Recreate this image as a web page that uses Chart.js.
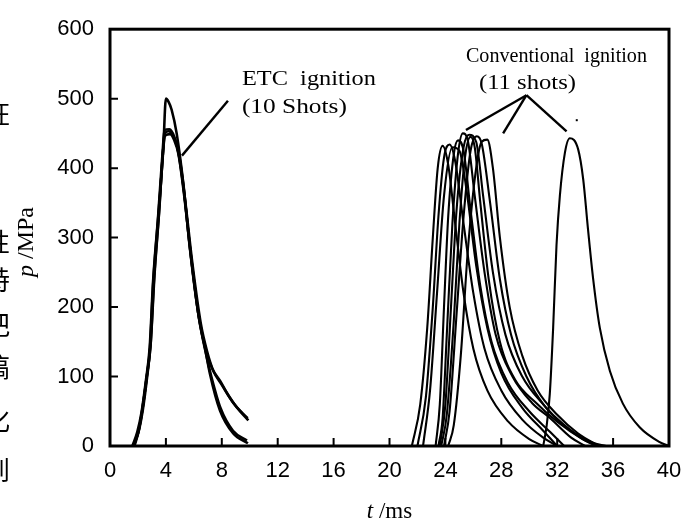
<!DOCTYPE html>
<html>
<head>
<meta charset="utf-8">
<script src="https://cdn.jsdelivr.net/npm/chart.js@4/dist/chart.umd.min.js"></script>
<style>
  html, body { margin: 0; padding: 0; background: #fff; }
  #wrap { width: 696px; height: 525px; }
</style>
</head>
<body>
<div id="wrap"><canvas id="pChart" width="696" height="525"></canvas></div>
<script>
// tick labels
const xTicks = [0, 4, 8, 12, 16, 20, 24, 28, 32, 36, 40];
const yTicks = [0, 100, 200, 300, 400, 500, 600];

// ETC ignition shots, [t ms, p MPa]
const etc1 = [[1.65,0],[2.0,18],[2.27,47],[2.6,95],[2.86,141],[3.1,237],[3.46,332],[3.81,427],[4.0,500],[4.2,495],[4.41,484],[4.77,450],[5.24,379],[5.72,284],[6.32,190],[6.8,141],[7.15,104],[7.87,51],[8.82,18],[9.87,4]];
const etc2 = [[1.7,0],[2.05,22],[2.3,50],[2.62,98],[2.9,145],[3.15,240],[3.5,335],[3.78,420],[3.92,450],[4.2,453],[4.5,447],[4.8,432],[5.26,372],[5.74,282],[6.34,188],[6.85,138],[7.3,112],[7.87,94],[8.5,72],[9.06,56],[9.9,37]];
const etc3 = [[1.75,0],[2.1,25],[2.35,52],[2.66,100],[2.92,150],[3.18,245],[3.52,338],[3.8,425],[3.95,447],[4.3,449],[4.6,440],[4.9,420],[5.3,362],[5.78,276],[6.36,185],[6.9,130],[7.25,100],[7.9,55],[8.8,22],[9.8,8]];
const etc4 = [[1.6,0],[1.95,20],[2.25,48],[2.58,96],[2.84,142],[3.08,236],[3.44,330],[3.76,422],[3.9,455],[4.25,456],[4.6,445],[5.0,412],[5.4,350],[5.9,262],[6.5,176],[6.95,136],[7.4,108],[8.0,88],[8.9,60],[9.85,40]];

// conventional ignition shots
const conv1 = [[21.6,0],[22.2,60],[22.7,170],[23.1,300],[23.45,400],[23.8,432],[24.2,405],[24.7,320],[25.3,220],[26.0,140],[27.0,80],[28.5,35],[30.0,10],[31.0,0]];
const conv2 = [[22.0,0],[22.6,70],[23.1,200],[23.5,330],[23.9,415],[24.3,434],[24.7,410],[25.3,320],[26.0,220],[26.8,140],[28.0,80],[29.5,38],[31.0,12],[32.0,0]];
const conv3 = [[22.4,0],[22.9,80],[23.4,220],[23.9,360],[24.5,430],[25.0,425],[25.5,370],[26.2,260],[27.0,170],[28.0,105],[29.5,55],[31.0,22],[32.0,0]];
const conv4 = [[23.3,0],[23.6,60],[23.9,200],[24.2,330],[24.6,420],[24.9,440],[25.3,425],[25.8,340],[26.5,230],[27.3,150],[28.5,90],[30.0,50],[31.5,20],[32.5,0]];
const conv5 = [[23.5,0],[23.8,40],[24.1,160],[24.5,320],[24.9,420],[25.25,450],[25.6,440],[26.1,360],[26.8,250],[27.6,160],[28.8,100],[30.2,62],[31.5,40],[33.0,12],[34.0,0]];
const conv6 = [[23.6,0],[24.0,60],[24.4,200],[24.8,340],[25.3,430],[25.7,448],[26.2,438],[26.7,360],[27.4,250],[28.3,160],[29.5,100],[31.0,60],[32.5,30],[34.0,8],[35.0,0]];
const conv7 = [[23.9,0],[24.3,50],[24.8,190],[25.3,330],[25.8,425],[26.25,446],[26.6,435],[27.2,350],[27.9,240],[28.7,160],[29.8,100],[31.2,55],[32.8,25],[34.5,5],[35.5,0]];
const conv8 = [[24.2,0],[24.6,30],[25.1,130],[25.6,280],[26.2,400],[26.6,438],[27.0,441],[27.4,400],[27.9,300],[28.6,200],[29.5,130],[30.6,80],[32.0,45],[33.5,18],[35.0,0]];
const conv9 = [[23.7,0],[24.1,45],[24.6,180],[25.0,320],[25.4,415],[25.8,445],[26.1,430],[26.5,350],[27.1,240],[27.9,150],[29.0,95],[30.5,62],[32.0,35],[33.8,10],[34.8,0]];
const conv10 = [[31.0,0],[31.25,30],[31.47,75],[31.71,170],[31.95,289],[32.19,360],[32.55,422],[32.9,443],[33.5,427],[33.86,384],[34.2,313],[34.57,241],[35.05,170],[35.77,108],[36.7,61],[37.9,27],[39.3,6],[40.0,0]];

// annotation texts
const etcLabel = ['ETC  ignition', '(10 Shots)'];
const convLabel = ['Conventional  ignition', '(11 shots)'];

const etcShots = [etc1, etc2, etc3, etc4];
const convShots = [conv1, conv2, conv3, conv4, conv5, conv6, conv7, conv8, conv9, conv10];

function toPts(arr) {
    return arr.map(function (d) { return { x: d[0], y: d[1] }; });
}

const datasets = [];
etcShots.forEach(function (s) {
    datasets.push({ data: toPts(s), borderColor: '#000', borderWidth: 2.6, pointRadius: 0, fill: false, cubicInterpolationMode: 'monotone' });
});
convShots.forEach(function (s) {
    datasets.push({ data: toPts(s), borderColor: '#000', borderWidth: 2.1, pointRadius: 0, fill: false, cubicInterpolationMode: 'monotone' });
});

// frame, inner ticks, titles and labels
const decor = {
    id: 'decor',
    afterDraw: function (chart) {
        const ctx = chart.ctx;
        const a = chart.chartArea;
        const xs = chart.scales.x, ys = chart.scales.y;
        ctx.save();
        ctx.strokeStyle = '#000';
        ctx.lineWidth = 3;
        ctx.strokeRect(a.left, a.top, a.right - a.left, a.bottom - a.top);

        ctx.lineWidth = 2;
        ctx.beginPath();
        xTicks.slice(1, -1).forEach(function (v) {
            const px = xs.getPixelForValue(v);
            ctx.moveTo(px, a.bottom);
            ctx.lineTo(px, a.bottom - 8);
        });
        yTicks.slice(1, -1).forEach(function (v) {
            const py = ys.getPixelForValue(v);
            ctx.moveTo(a.left, py);
            ctx.lineTo(a.left + 8, py);
        });
        ctx.stroke();

        // leader lines
        function P(t, p) { return [xs.getPixelForValue(t), ys.getPixelForValue(p)]; }
        function line(p1, p2) {
            ctx.beginPath();
            ctx.moveTo(p1[0], p1[1]);
            ctx.lineTo(p2[0], p2[1]);
            ctx.stroke();
        }
        ctx.lineWidth = 2.4;
        line(P(8.44, 497), P(5.15, 418));
        const apex = P(29.8, 505);
        line(apex, P(25.47, 455));
        line(apex, P(28.13, 450));
        line(apex, P(32.67, 453));
        ctx.fillStyle = '#000';
        const dot = P(33.4, 469);
        ctx.fillRect(dot[0] - 1, dot[1] - 1, 2, 2);

        // serif labels, stretched to the width seen in the scan
        function stretched(text, left, baseline, w, size) {
            ctx.font = size + 'px "Liberation Serif"';
            const m = ctx.measureText(text).width;
            ctx.save();
            ctx.translate(left, baseline);
            ctx.scale(w / m, 1);
            ctx.textBaseline = 'alphabetic';
            ctx.textAlign = 'left';
            ctx.fillText(text, 0, 0);
            ctx.restore();
        }
        const e1 = P(9.44, 520), e2 = P(9.44, 479);
        stretched(etcLabel[0], e1[0], e1[1], 134, 20);
        stretched(etcLabel[1], e2[0], e2[1], 105, 20);
        const c1 = P(25.47, 553), c2 = P(26.4, 514);
        stretched(convLabel[0], c1[0], c1[1], 181, 21);
        stretched(convLabel[1], c2[0], c2[1], 97, 21);

        // x title
        ctx.textBaseline = 'middle';
        ctx.textAlign = 'left';
        ctx.font = 'italic 23px "Liberation Serif"';
        const tW = ctx.measureText('t').width;
        ctx.font = '23px "Liberation Serif"';
        const rW = ctx.measureText(' /ms').width;
        let x0 = (a.left + a.right) / 2 - (tW + rW) / 2;
        ctx.font = 'italic 23px "Liberation Serif"';
        ctx.fillText('t', x0, 512);
        ctx.font = '23px "Liberation Serif"';
        ctx.fillText(' /ms', x0 + tW, 512);

        // y title
        ctx.save();
        ctx.translate(27, 242);
        ctx.rotate(-Math.PI / 2);
        ctx.font = 'italic 24px "Liberation Serif"';
        const pW = ctx.measureText('p').width;
        ctx.font = '24px "Liberation Serif"';
        const mW = ctx.measureText(' /MPa').width;
        x0 = -(pW + mW) / 2;
        ctx.font = 'italic 24px "Liberation Serif"';
        ctx.fillText('p', x0, 0);
        ctx.font = '24px "Liberation Serif"';
        ctx.fillText(' /MPa', x0 + pW, 0);
        ctx.restore();

        // cut-off characters of the neighbouring column in the scan
        ctx.font = '26px "Noto Sans CJK SC"';
        ctx.textAlign = 'center';
        const side = [['狂', 114], ['性', 242], ['特', 280], ['把', 325], ['搞', 367], ['化', 420], ['到', 470]];
        side.forEach(function (c) { ctx.fillText(c[0], -3, c[1]); });
        ctx.restore();
    }
};

Chart.defaults.font.family = '"Liberation Sans", Arial, sans-serif';
Chart.defaults.color = '#000';

new Chart(document.getElementById('pChart').getContext('2d'), {
    type: 'line',
    data: { datasets: datasets },
    options: {
        responsive: false,
        animation: false,
        layout: { padding: { left: 0, right: 27, top: 25, bottom: 0 } },
        plugins: { legend: { display: false }, tooltip: { enabled: false } },
        scales: {
            x: {
                type: 'linear',
                min: 0,
                max: 40,
                afterBuildTicks: function (s) { s.ticks = xTicks.map(function (v) { return { value: v }; }); },
                afterFit: function (s) { s.height = 79; },
                grid: { display: false, drawTicks: false },
                border: { display: false },
                ticks: { padding: 12, maxRotation: 0, autoSkip: false, font: { size: 22 }, color: '#000' }
            },
            y: {
                min: 0,
                max: 600,
                afterBuildTicks: function (s) { s.ticks = yTicks.map(function (v) { return { value: v }; }); },
                afterFit: function (s) { s.width = 110; },
                grid: { display: false, drawTicks: false },
                border: { display: false },
                ticks: { padding: 16, font: { size: 22 }, color: '#000' }
            }
        }
    },
    plugins: [decor]
});
</script>
</body>
</html>
